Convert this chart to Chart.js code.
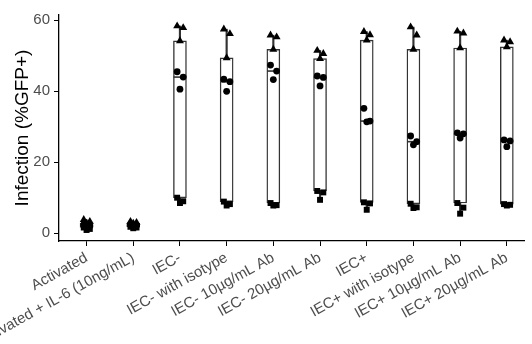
<!DOCTYPE html>
<html><head><meta charset="utf-8">
<script src="https://cdn.jsdelivr.net/npm/chart.js@4/dist/chart.umd.min.js"></script>
<style>html,body{margin:0;padding:0;background:#fff}#w{width:532px;height:344px}</style>
</head><body><div id="w"><canvas id="c"></canvas></div>
<script>
const categories = ["Activated","Activated + IL-6 (10ng/mL)","IEC-","IEC- with isotype","IEC- 10\u00b5g/mL Ab","IEC- 20\u00b5g/mL Ab","IEC+","IEC+ with isotype","IEC+ 10\u00b5g/mL Ab","IEC+ 20\u00b5g/mL Ab"];
const triangleValues = [
  [3.8, 3.3, 2.8],
  [3.3, 3.0, 2.8],
  [58.4, 57.9, 54.2],
  [57.5, 56.2, 49.4],
  [55.8, 55.3, 51.8],
  [51.5, 50.6, 49.2],
  [56.8, 55.9, 54.4],
  [58.1, 55.8, 51.8],
  [56.9, 56.4, 52.2],
  [54.4, 53.9, 52.5]
];
const circleValues = [
  [2.4, 2.0, 1.8],
  [2.4, 2.2, 2.0],
  [45.5, 44.0, 40.6],
  [43.4, 42.7, 40.0],
  [47.4, 45.7, 43.3],
  [44.3, 43.9, 41.5],
  [35.2, 31.6, 31.4],
  [27.4, 25.8, 24.9],
  [28.3, 28.0, 26.8],
  [26.3, 26.0, 24.4]
];
const squareValues = [
  [1.6, 1.2, 0.9],
  [1.8, 1.6, 1.4],
  [10.0, 9.0, 8.5],
  [8.9, 8.2, 7.8],
  [8.5, 7.9, 7.8],
  [11.9, 11.5, 9.4],
  [8.7, 8.4, 6.6],
  [8.3, 7.3, 7.1],
  [8.5, 7.2, 5.5],
  [8.2, 8.0, 7.8]
];
const yTicks = [0, 20, 40, 60];
const jitter = [-0.06, 0.07, 0.0];

function quantile(s, p) {
  const h = (s.length - 1) * p, lo = Math.floor(h), hi = Math.ceil(h);
  return s[lo] + (s[hi] - s[lo]) * (h - lo);
}
const stats = categories.map((c, i) => {
  const all = [...triangleValues[i], ...circleValues[i], ...squareValues[i]].sort((a, b) => a - b);
  const q1 = quantile(all, 0.25), med = quantile(all, 0.5), q3 = quantile(all, 0.75);
  const iqr = q3 - q1;
  const lo = Math.min(...all.filter(v => v >= q1 - 1.5 * iqr));
  const hi = Math.max(...all.filter(v => v <= q3 + 1.5 * iqr));
  return {q1, med, q3, lo, hi};
});
function pts(arr) {
  const out = [];
  arr.forEach((g, i) => g.forEach((v, j) => out.push({x: i + jitter[j % jitter.length], y: v})));
  return out;
}
const INK = '#333333';
const ctx = document.getElementById('c');
new Chart(ctx, {
  type: 'scatter',
  data: {
    datasets: [
      {type: 'bar', data: stats.map((s, i) => ({x: i, y: [s.lo, s.hi]})), backgroundColor: INK, borderWidth: 0, barThickness: 1.5, grouped: false, order: 5},
      {type: 'bar', data: stats.map((s, i) => ({x: i, y: [s.q1, s.q3]})), backgroundColor: '#ffffff', borderColor: INK, borderWidth: 1.4, borderSkipped: false, barThickness: 13, grouped: false, order: 4},
      {type: 'scatter', data: stats.map((s, i) => ({x: i, y: s.med})), pointStyle: 'line', radius: 6.3, borderWidth: 1.6, borderColor: INK, order: 3},
      {type: 'scatter', data: pts(squareValues), pointStyle: 'rect', radius: 4.2, backgroundColor: '#000', borderWidth: 0, order: 2},
      {type: 'scatter', data: pts(circleValues), pointStyle: 'circle', radius: 3.4, backgroundColor: '#000', borderWidth: 0, order: 1},
      {type: 'scatter', data: pts(triangleValues), pointStyle: 'triangle', radius: 4.6, backgroundColor: '#000', borderWidth: 0, order: 0}
    ]
  },
  options: {
    responsive: true, maintainAspectRatio: false, animation: false,
    layout: {padding: {top: 15, left: 0, right: 0, bottom: 0}},
    plugins: {legend: {display: false}, tooltip: {enabled: false}},
    scales: {
      x: {
        type: 'linear', min: -0.59, max: 9.37, offset: false,
        afterBuildTicks: s => { s.ticks = categories.map((c, i) => ({value: i})); },
        afterFit: s => { s.height = 103; s.paddingLeft = 0; s.paddingRight = 0; },
        grid: {drawOnChartArea: false, drawTicks: true, tickLength: 5, color: '#000', offset: false},
        border: {display: true, color: '#000', width: 1.3},
        ticks: {autoSkip: false, minRotation: 29, maxRotation: 29, padding: 3, color: '#4D4D4D',
          font: {family: "'Liberation Sans', Arial, sans-serif", size: 15},
          callback: v => categories[Math.round(v)]}
      },
      y: {
        type: 'linear', min: -2.2, max: 61.5,
        afterBuildTicks: s => { s.ticks = yTicks.map(v => ({value: v})); },
        afterFit: s => { s.width = 59; s.paddingTop = 0; s.paddingBottom = 0; },
        grid: {drawOnChartArea: false, drawTicks: true, tickLength: 5, color: '#000'},
        border: {display: true, color: '#000', width: 1.3},
        ticks: {padding: 4, color: '#4D4D4D', font: {family: "'Liberation Sans', Arial, sans-serif", size: 15}},
        title: {display: true, text: 'Infection (%GFP+)', color: '#000', padding: {top: 11, bottom: 0},
          font: {family: "'Liberation Sans', Arial, sans-serif", size: 19}}
      }
    }
  }
});
</script></body></html>
